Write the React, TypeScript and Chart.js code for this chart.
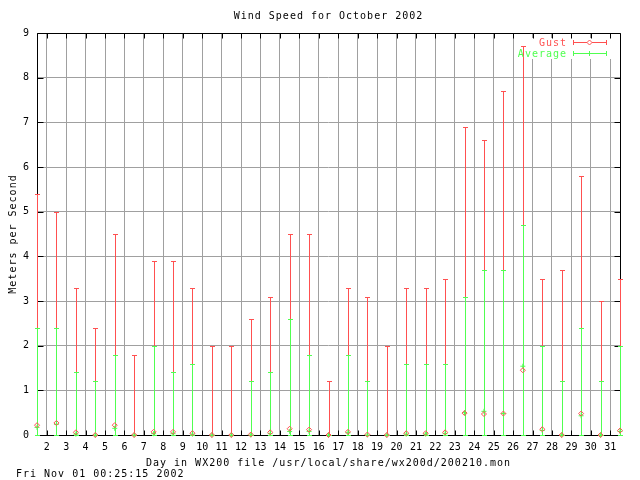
import { useEffect, useRef } from "react";
import { Chart, registerables } from "chart.js";

Chart.register(...registerables);

// ---- data ----
const days = [1, 2, 3, 4, 5, 6, 7, 8, 9, 10, 11, 12, 13, 14, 15, 16, 17, 18, 19, 20, 21, 22, 23, 24, 25, 26, 27, 28, 29, 30, 31];
const gustMean = [0.22, 0.27, 0.06, 0.0, 0.22, 0.0, 0.07, 0.07, 0.04, 0.0, 0.0, 0.01, 0.06, 0.14, 0.12, 0.0, 0.07, 0.01, 0.0, 0.04, 0.04, 0.06, 0.49, 0.47, 0.48, 1.45, 0.13, 0.0, 0.48, 0.0, 0.1];
const gustMin = [0, 0, 0, 0, 0, 0, 0, 0, 0, 0, 0, 0, 0, 0, 0, 0, 0, 0, 0, 0, 0, 0, 0, 0, 0, 0, 0, 0, 0, 0, 0];
const gustMax = [5.4, 5.0, 3.3, 2.4, 4.5, 1.8, 3.9, 3.9, 3.3, 2.0, 2.0, 2.6, 3.1, 4.5, 4.5, 1.2, 3.3, 3.1, 2.0, 3.3, 3.3, 3.5, 6.9, 6.6, 7.7, 8.7, 3.5, 3.7, 5.8, 3.0, 3.5];
const avgMean = [0.17, 0.24, 0.02, 0.0, 0.15, 0.0, 0.03, 0.03, 0.02, 0.0, 0.0, 0.0, 0.03, 0.08, 0.08, 0.0, 0.05, 0.0, 0.0, 0.02, 0.02, 0.03, 0.5, 0.53, 0.48, 1.54, 0.1, 0.0, 0.43, 0.0, 0.08];
const avgMin = [0, 0, 0, 0, 0, 0, 0, 0, 0, 0, 0, 0, 0, 0, 0, 0, 0, 0, 0, 0, 0, 0, 0, 0, 0, 0, 0, 0, 0, 0, 0];
const avgMax = [2.4, 2.4, 1.4, 1.2, 1.8, 0.0, 2.0, 1.4, 1.6, 0.0, 0.0, 1.2, 1.4, 2.6, 1.8, 0.0, 1.8, 1.2, 0.0, 1.6, 1.6, 1.6, 3.1, 3.7, 3.7, 4.7, 2.0, 1.2, 2.4, 1.2, 2.0];
const xTicks = [2, 3, 4, 5, 6, 7, 8, 9, 10, 11, 12, 13, 14, 15, 16, 17, 18, 19, 20, 21, 22, 23, 24, 25, 26, 27, 28, 29, 30, 31];
const yTicks = [0, 1, 2, 3, 4, 5, 6, 7, 8, 9];
const MIDDAY = 0.5;
const X_MIN = 1.5;
const X_MAX = 31.5;
const Y_MIN = 0;
const Y_MAX = 9;

const TITLE = "Wind Speed for October 2002";
const X_LABEL = "Day in WX200 file /usr/local/share/wx200d/200210.mon";
const Y_LABEL = "Meters per Second";
const STAMP = "Fri Nov 01 00:25:15 2002";
const SERIES = ["Gust", "Average"];

const RED = "#ff5050";
const GREEN = "#50ff50";
const GRID = "#a0a0a0";
const FAMILY = "'DejaVu Sans Mono', 'Liberation Mono', monospace";
const FONT = "10px " + FAMILY;

function crisp(v: number) {
  return Math.round(v) + 0.5;
}

function drawErrorBars(ctx: CanvasRenderingContext2D, xs: any, ys: any, lows: number[], highs: number[], color: string) {
  ctx.save();
  ctx.strokeStyle = color;
  ctx.lineWidth = 1;
  ctx.beginPath();
  days.forEach((d, i) => {
    const x = crisp(xs.getPixelForValue(d + MIDDAY));
    const y1 = crisp(ys.getPixelForValue(lows[i]));
    const y2 = crisp(ys.getPixelForValue(highs[i]));
    ctx.moveTo(x, y1);
    ctx.lineTo(x, y2);
    ctx.moveTo(x - 2.5, y1);
    ctx.lineTo(x + 2.5, y1);
    ctx.moveTo(x - 2.5, y2);
    ctx.lineTo(x + 2.5, y2);
  });
  ctx.stroke();
  ctx.restore();
}

const gnuplotLook = {
  id: "gnuplotLook",
  beforeDatasetsDraw(chart: any) {
    const { ctx, chartArea: a, scales } = chart;
    const xs = scales.x;
    const ys = scales.y;
    // blank key area
    ctx.save();
    ctx.fillStyle = "#ffffff";
    ctx.fillRect(514, 38, 100, 21);
    // frame
    const L = crisp(a.left);
    const R = crisp(a.right);
    const T = crisp(a.top);
    const B = crisp(a.bottom);
    ctx.strokeStyle = "#000000";
    ctx.lineWidth = 1;
    ctx.beginPath();
    ctx.rect(L, T, R - L, B - T);
    yTicks.forEach((v) => {
      const y = crisp(ys.getPixelForValue(v));
      ctx.moveTo(L, y);
      ctx.lineTo(L + 6, y);
      ctx.moveTo(R, y);
      ctx.lineTo(R - 6, y);
    });
    xTicks.forEach((v) => {
      const x = crisp(xs.getPixelForValue(v));
      ctx.moveTo(x, B);
      ctx.lineTo(x, B - 5);
      ctx.moveTo(x, T);
      ctx.lineTo(x, T + 5);
    });
    ctx.stroke();
    ctx.restore();
    drawErrorBars(ctx, xs, ys, gustMin, gustMax, RED);
    drawErrorBars(ctx, xs, ys, avgMin, avgMax, GREEN);
  },
  afterDraw(chart: any) {
    const { ctx, chartArea: a } = chart;
    const cx = (a.left + a.right) / 2;
    ctx.save();
    ctx.font = FONT;
    (ctx as any).letterSpacing = "1px";
    ctx.fillStyle = "#000000";
    ctx.textBaseline = "alphabetic";
    ctx.textAlign = "center";
    ctx.fillText(TITLE, cx, 19);
    ctx.fillText(X_LABEL, cx, 465.5);
    ctx.textAlign = "left";
    ctx.fillText(STAMP, 16, 476.5);
    ctx.save();
    ctx.translate(15.5, (a.top + a.bottom) / 2);
    ctx.rotate(-Math.PI / 2);
    ctx.textAlign = "center";
    ctx.fillText(Y_LABEL, 0, 0);
    ctx.restore();

    // key
    const colors = [RED, GREEN];
    const rowsY = [42.5, 53.5];
    const x1 = 573.5;
    const x2 = 606.5;
    const xm = 589.5;
    SERIES.forEach((name, i) => {
      const y = rowsY[i];
      ctx.fillStyle = colors[i];
      ctx.strokeStyle = colors[i];
      ctx.textAlign = "right";
      ctx.fillText(name, 567, y + 3.5);
      ctx.lineWidth = 1;
      ctx.beginPath();
      ctx.moveTo(x1, y);
      ctx.lineTo(x2, y);
      ctx.moveTo(x1, y - 2.5);
      ctx.lineTo(x1, y + 2.5);
      ctx.moveTo(x2, y - 2.5);
      ctx.lineTo(x2, y + 2.5);
      if (i === 1) {
        ctx.moveTo(xm, y - 2.5);
        ctx.lineTo(xm, y + 2.5);
      }
      ctx.stroke();
      if (i === 0) {
        ctx.fillStyle = "#ffffff";
        ctx.beginPath();
        ctx.moveTo(xm, y - 2.5);
        ctx.lineTo(xm + 2.5, y);
        ctx.lineTo(xm, y + 2.5);
        ctx.lineTo(xm - 2.5, y);
        ctx.closePath();
        ctx.fill();
        ctx.stroke();
      }
    });
    ctx.restore();
  },
};

export default function App() {
  const ref = useRef<HTMLCanvasElement | null>(null);

  useEffect(() => {
    if (!ref.current) return;
    const tickFont = { family: FAMILY, size: 10 };
    const chart = new Chart(ref.current, {
      type: "scatter",
      data: {
        datasets: [
          {
            label: SERIES[0],
            data: days.map((d, i) => ({ x: d + MIDDAY, y: gustMean[i] })),
            pointStyle: "rectRot",
            pointRadius: 2.5,
            pointBorderWidth: 1,
            borderColor: RED,
            backgroundColor: "rgba(255,255,255,0)",
            showLine: false,
            clip: false,
          } as any,
          {
            label: SERIES[1],
            data: days.map((d, i) => ({ x: d + MIDDAY, y: avgMean[i] })),
            pointStyle: "cross",
            pointRadius: 2.5,
            pointBorderWidth: 1,
            borderColor: GREEN,
            backgroundColor: GREEN,
            showLine: false,
            clip: false,
          } as any,
        ],
      },
      options: {
        animation: false,
        responsive: false,
        events: [],
        layout: { padding: { top: 33, right: 20, left: 0, bottom: 0 } },
        plugins: {
          legend: { display: false },
          title: { display: false },
          tooltip: { enabled: false },
        },
        scales: {
          x: {
            type: "linear",
            min: X_MIN,
            max: X_MAX,
            afterBuildTicks: (s: any) => {
              s.ticks = xTicks.map((v) => ({ value: v }));
            },
            afterFit: (s: any) => {
              s.height = 45;
            },
            grid: { color: GRID, lineWidth: 1, drawTicks: false },
            border: { display: false },
            ticks: {
              autoSkip: false,
              maxRotation: 0,
              minRotation: 0,
              padding: 6,
              color: "#000000",
              font: tickFont,
              callback: (v: any) => String(v),
            },
          },
          y: {
            type: "linear",
            min: Y_MIN,
            max: Y_MAX,
            afterBuildTicks: (s: any) => {
              s.ticks = yTicks.map((v) => ({ value: v }));
            },
            afterFit: (s: any) => {
              s.width = 37;
            },
            grid: { color: GRID, lineWidth: 1, drawTicks: false },
            border: { display: false },
            ticks: {
              padding: 8,
              color: "#000000",
              font: tickFont,
              callback: (v: any) => String(v),
            },
          },
        },
      } as any,
      plugins: [gnuplotLook],
    });
    return () => chart.destroy();
  }, []);

  return (
    <div style={{ position: "absolute", left: 0, top: 0, width: 640, height: 480, background: "#ffffff" }}>
      <canvas ref={ref} width={640} height={480} style={{ display: "block" }} />
    </div>
  );
}
